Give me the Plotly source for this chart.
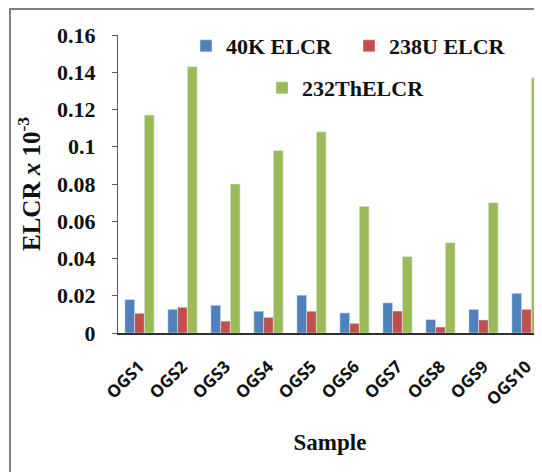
import plotly.graph_objects as go

samples = ["OGS1", "OGS2", "OGS3", "OGS4", "OGS5", "OGS6", "OGS7", "OGS8", "OGS9", "OGS10"]
k40 = [0.018, 0.0127, 0.0149, 0.0117, 0.0203, 0.0108, 0.0162, 0.0072, 0.0127, 0.0213]
u238 = [0.0106, 0.0138, 0.0064, 0.0084, 0.0117, 0.0052, 0.0118, 0.0032, 0.0070, 0.0127]
th232 = [0.117, 0.143, 0.080, 0.098, 0.108, 0.068, 0.041, 0.0485, 0.070, 0.137]
series_names = ["40K ELCR", "238U ELCR", "232ThELCR"]
y_ticks = [0, 0.02, 0.04, 0.06, 0.08, 0.1, 0.12, 0.14, 0.16]
y_tick_text = ["0", "0.02", "0.04", "0.06", "0.08", "0.1", "0.12", "0.14", "0.16"]

colors = ["#4F81BD", "#C0504D", "#9BBB59"]
serif = "Liberation Serif"

fig = go.Figure()
fig.add_trace(go.Bar(x=samples, y=k40, name=series_names[0], marker_color=colors[0], legend="legend"))
fig.add_trace(go.Bar(x=samples, y=u238, name=series_names[1], marker_color=colors[1], legend="legend"))
fig.add_trace(go.Bar(x=samples, y=th232, name=series_names[2], marker_color=colors[2], legend="legend2"))

# page has an 8px body margin; figure coordinates are page coords - 8
L, T, B = 110, 27, 139
W, H = 534, 464
pw = W - L
ph = H - T - B


def px_x(x):
    return (x - L) / pw


def px_y(y):
    return (H - B - y) / ph


legend_font = dict(family=serif, size=22, color="#111111", weight="bold")

fig.update_layout(
    width=W, height=H,
    margin=dict(l=L, r=0, t=T, b=B, pad=0),
    paper_bgcolor="white", plot_bgcolor="white",
    barmode="group", bargap=0.32, bargroupgap=0,
    font=dict(family=serif, color="#111111"),
    showlegend=True,
    legend=dict(
        orientation="h", x=px_x(178), y=px_y(17), xanchor="left", yanchor="top",
        font=legend_font, bgcolor="rgba(0,0,0,0)", traceorder="normal",
        itemwidth=30, entrywidth=118,
    ),
    legend2=dict(
        orientation="h", x=px_x(254), y=px_y(59), xanchor="left", yanchor="top",
        font=legend_font, bgcolor="rgba(0,0,0,0)", itemwidth=30,
    ),
    xaxis=dict(
        range=[-0.5, -0.5 + pw / 43.0],
        showline=True, linecolor="#303030", linewidth=2,
        ticks="", showgrid=False, zeroline=False,
        tickangle=-45,
        tickfont=dict(family="Open Sans", size=17, color="#111111", weight="bold"),
        ticklabelstandoff=15,
        title=dict(text="Sample", font=dict(family=serif, size=23, color="#111111", weight="bold"), standoff=25),
    ),
    yaxis=dict(
        range=[0, 0.16],
        tickvals=y_ticks, ticktext=y_tick_text,
        showline=True, linecolor="#595959", linewidth=1,
        ticks="outside", ticklen=5, tickcolor="#595959",
        showgrid=False, zeroline=False,
        tickfont=dict(family=serif, size=22, color="#111111", weight="bold"),
        ticklabelstandoff=12,
        title=dict(text="ELCR <i>x</i> 10<sup>-3</sup>", font=dict(family=serif, size=25, color="#111111", weight="bold"), standoff=9),
    ),
    shapes=[dict(
        type="rect", xref="paper", yref="paper",
        x0=px_x(2), x1=px_x(600), y0=px_y(520), y1=px_y(1),
        line=dict(color="#7f7f7f", width=2), fillcolor="rgba(0,0,0,0)", layer="below",
    )],
)

fig.write_html("out.html")
